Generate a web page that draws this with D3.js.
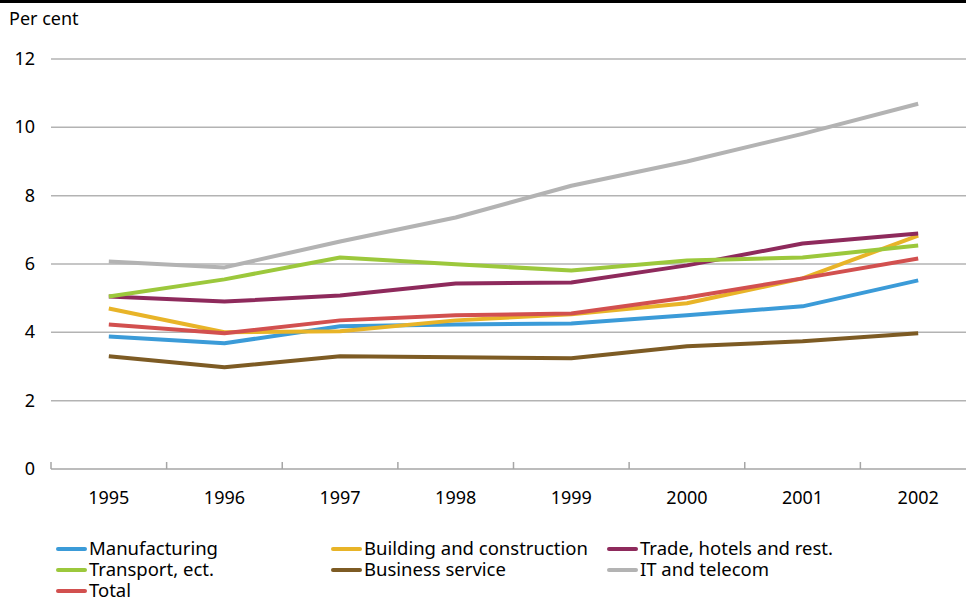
<!DOCTYPE html>
<html>
<head>
<meta charset="utf-8">
<script src="https://cdn.jsdelivr.net/npm/d3@7"></script>
<style>
	body { margin: 0; background: #fff; }
	svg { display: block; font-family: "Noto Sans", sans-serif; }
	.grid line { stroke: #b3b3b3; stroke-width: 1.5; }
	.axis path, .axis line { stroke: #a6a6a6; stroke-width: 1.5; }
	.axis text, .ylab { font-size: 18px; fill: #000; }
	.legend text { font-size: 18.5px; fill: #000; }
</style>
</head>
<body>
<svg id="chart" width="966" height="601"></svg>
<script>
var years = ['1995', '1996', '1997', '1998', '1999', '2000', '2001', '2002'];
var yTicks = [0, 2, 4, 6, 8, 10, 12];

var manufacturing = [3.88, 3.68, 4.18, 4.23, 4.26, 4.5, 4.76, 5.52];
var building = [4.7, 4.0, 4.03, 4.35, 4.53, 4.85, 5.58, 6.83];
var trade = [5.05, 4.9, 5.08, 5.43, 5.46, 5.96, 6.6, 6.89];
var transport = [5.05, 5.55, 6.19, 5.99, 5.81, 6.1, 6.19, 6.54];
var business = [3.3, 2.98, 3.3, 3.27, 3.24, 3.59, 3.74, 3.97];
var itTelecom = [6.07, 5.9, 6.66, 7.36, 8.29, 9.0, 9.81, 10.69];
var total = [4.23, 3.97, 4.35, 4.5, 4.55, 5.02, 5.58, 6.16];

var seriesNames = ['Manufacturing', 'Building and construction', 'Trade, hotels and rest.',
	'Transport, ect.', 'Business service', 'IT and telecom', 'Total'];
var seriesValues = [manufacturing, building, trade, transport, business, itTelecom, total];
var seriesColors = ['#3b9bd8', '#e8b428', '#8e2a5c', '#9cc83c', '#7d5b24', '#b3b3b3', '#d2504f'];

var svg = d3.select('#chart');

// thick rule at the very top
svg.append('rect').attr('x', 0).attr('y', 0).attr('width', 966).attr('height', 3).attr('fill', '#000');

var x = d3.scaleBand().domain(years).range([51, 976]);
var y = d3.scaleLinear().domain([0, 12]).range([469, 59]);

// horizontal grid
svg.append('g').attr('class', 'grid')
	.selectAll('line')
	.data(yTicks.filter(function(d) { return d > 0; }))
	.enter().append('line')
	.attr('x1', 51).attr('x2', 966)
	.attr('y1', function(d) { return y(d); })
	.attr('y2', function(d) { return y(d); });

// y labels
svg.append('g').selectAll('text')
	.data(yTicks)
	.enter().append('text')
	.attr('class', 'ylab')
	.attr('x', 35)
	.attr('y', function(d) { return y(d) + 6; })
	.attr('text-anchor', 'end')
	.text(function(d) { return d; });

svg.append('text').attr('class', 'ylab').attr('x', 9).attr('y', 25).text('Per cent');

// x axis with ticks between categories
var xAxis = svg.append('g').attr('class', 'axis').attr('transform', 'translate(0,469)');
xAxis.append('line').attr('x1', 51).attr('x2', 966).attr('y1', 0).attr('y2', 0);
xAxis.selectAll('line.tick')
	.data(years)
	.enter().append('line')
	.attr('class', 'tick')
	.attr('x1', function(d) { return x(d); })
	.attr('x2', function(d) { return x(d); })
	.attr('y1', -7).attr('y2', 0);
xAxis.selectAll('text')
	.data(years)
	.enter().append('text')
	.attr('x', function(d) { return x(d) + x.bandwidth() / 2; })
	.attr('y', 35)
	.attr('text-anchor', 'middle')
	.text(function(d) { return d; });

// lines
var line = d3.line()
	.x(function(d, i) { return x(years[i]) + x.bandwidth() / 2; })
	.y(function(d) { return y(d); });

svg.append('g').selectAll('path')
	.data(seriesValues)
	.enter().append('path')
	.attr('d', line)
	.attr('fill', 'none')
	.attr('stroke', function(d, i) { return seriesColors[i]; })
	.attr('stroke-width', 4)
	.attr('stroke-linejoin', 'round');

// legend: three columns
var legendCols = [58, 333, 609];
var legend = svg.append('g').attr('class', 'legend');
var items = legend.selectAll('g')
	.data(seriesNames)
	.enter().append('g')
	.attr('transform', function(d, i) {
		return 'translate(' + legendCols[i % 3] + ',' + (549 + Math.floor(i / 3) * 21) + ')';
	});
items.append('line')
	.attr('x1', 0).attr('x2', 27)
	.attr('y1', 0).attr('y2', 0)
	.attr('stroke', function(d, i) { return seriesColors[i]; })
	.attr('stroke-width', 4)
	.attr('stroke-linecap', 'round');
items.append('text')
	.attr('x', 31)
	.attr('y', 6)
	.text(function(d) { return d; });
</script>
</body>
</html>
